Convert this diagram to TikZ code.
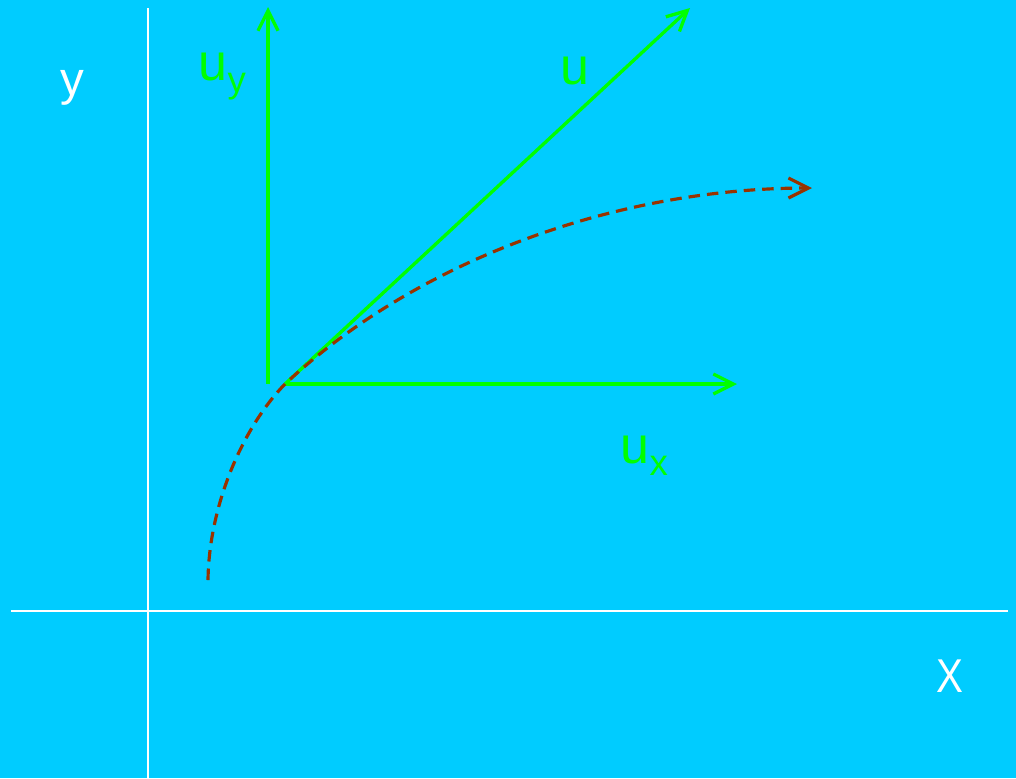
\documentclass[tikz,border=0pt]{standalone}
\usepackage{fontspec}
\setmainfont{Liberation Sans}
\usetikzlibrary{arrows.meta}
\definecolor{bgblue}{HTML}{00CCFF}
\definecolor{vgreen}{HTML}{00FF00}
\definecolor{pathbrown}{HTML}{993300}
\tikzset{
  axisline/.style={draw=white,line width=0.6pt},
  vecline/.style={draw=vgreen,line width=0.95pt,-{Straight Barb[length=0.2cm,width=0.2cm]}},
  pathline/.style={draw=pathbrown,line width=0.9pt,dash pattern=on 0.115cm off 0.07cm,-{Straight Barb[length=0.2cm,width=0.2cm]}},
  axlabel/.style={text=white,font=\fontsize{13.5pt}{16pt}\selectfont,inner sep=0pt},
  veclabel/.style={text=vgreen,font=\fontsize{14.8pt}{17pt}\selectfont,inner sep=0pt,anchor=base west},
}
\newcommand{\subtxt}[1]{\raisebox{-0.12cm}{\fontsize{10.4pt}{12pt}\selectfont #1}}
\begin{document}
\begin{tikzpicture}[x=0.01cm,y=-0.01cm]
\fill[bgblue] (0,0) rectangle (1016,778);
\useasboundingbox (0,0) rectangle (1016,778);
% axes
\coordinate (ytop) at (148,8);
\coordinate (ybot) at (148,778);
\coordinate (xl) at (11,611);
\coordinate (xr) at (1008,611);
\draw[axisline] (ytop) -- (ybot);
\draw[axisline] (xl) -- (xr);
% vectors
\coordinate (O) at (285,384);
\coordinate (uybase) at (268,384);
\coordinate (uytip) at (268,7);
\coordinate (uxtip) at (737,384);
\coordinate (utip) at (690,8);
\draw[vecline] (uybase) -- (uytip);
\draw[vecline] (O) -- (uxtip);
\draw[vecline] (O) -- (utip);
% trajectory
\coordinate (start) at (208,580);
\coordinate (end) at (812,188);
\draw[pathline] (start) .. controls (209,505) and (243,427) .. (O)
  .. controls (420,258) and (620,188) .. (end);
% labels
\node[axlabel,anchor=base] (ylab) at (72,95) {y};
\node[axlabel,anchor=base,font=\fontsize{13.5pt}{16pt}\selectfont,xscale=0.85] (xlab) at (950,692) {X};
\node[veclabel] (ulab) at (560,84) {u};
\node[veclabel] (uylab) at (198,80) {u\subtxt{y}};
\node[veclabel] (uxlab) at (620,463) {u\subtxt{x}};
\end{tikzpicture}
\end{document}
